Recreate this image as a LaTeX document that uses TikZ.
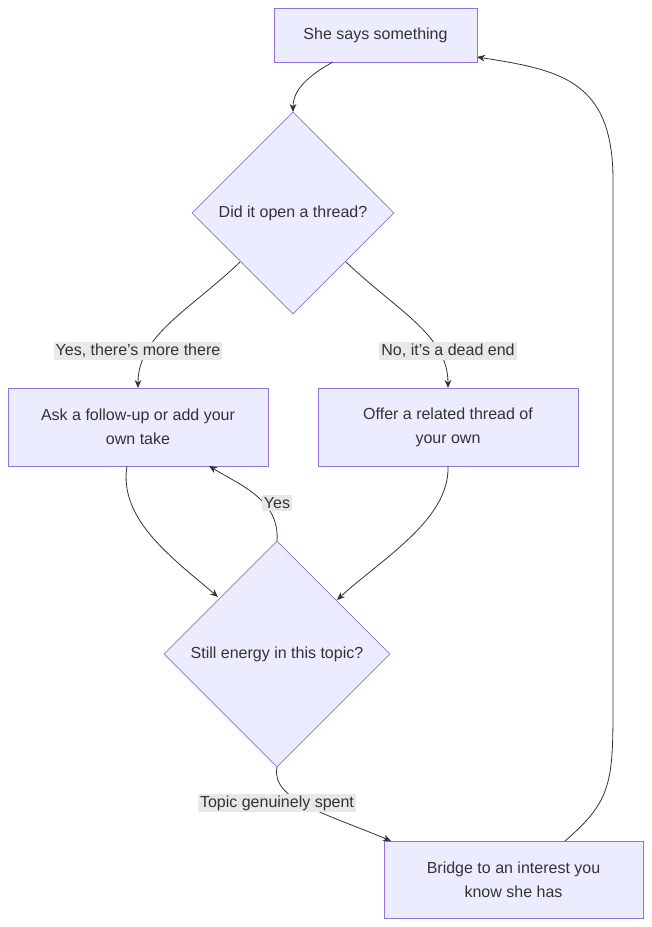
\documentclass[tikz,border=0pt]{standalone}
\usepackage{fontspec}
\setmainfont{Liberation Sans}
\usetikzlibrary{shapes.geometric,arrows.meta}
\definecolor{nfill}{HTML}{ECECFF}
\definecolor{nline}{HTML}{9370DB}
\definecolor{txt}{HTML}{333333}
\definecolor{lbg}{HTML}{E8E8E8}
\begin{document}
\begin{tikzpicture}[x=0.75pt,y=-0.75pt,
  box/.style={draw=nline,fill=nfill,line width=0.6pt,text=txt,font=\fontsize{12}{18}\selectfont,align=center,inner sep=0pt},
  dia/.style={draw=nline,fill=nfill,line width=0.6pt,diamond,aspect=1,text=txt,font=\fontsize{12}{18}\selectfont,inner sep=0pt},
  lab/.style={fill=lbg,text=txt,font=\fontsize{12}{14}\selectfont,inner sep=1.5pt},
  edge/.style={draw=txt,line width=0.6pt,-{Stealth[length=6pt,width=5pt]}}]
\useasboundingbox (0,0) rectangle (652,927);
\node[box,minimum width=203*0.75pt,minimum height=54*0.75pt] (A) at (375.5,35) {She says something};
\node[dia,minimum width=202*0.75pt,minimum height=202*0.75pt] (B) at (293,213) {Did it open a thread?};
\node[box,minimum width=260*0.75pt,minimum height=78*0.75pt] (C) at (138,427) {Ask a follow-up or add your\\own take};
\node[box,minimum width=260*0.75pt,minimum height=78*0.75pt] (D) at (448,427) {Offer a related thread of\\your own};
\node[dia,minimum width=226*0.75pt,minimum height=226*0.75pt] (E) at (277,654) {Still energy in this topic?};
\node[box,minimum width=259*0.75pt,minimum height=77*0.75pt] (F) at (513.5,879.5) {Bridge to an interest you\\know she has};
\coordinate (a1) at (333,62); \coordinate (b0) at (293,112);
\draw[edge] (a1) .. controls (300,80) and (293,95) .. (b0);
\coordinate (b1) at (240,262); \coordinate (c0) at (138,388);
\draw[edge] (b1) .. controls (190,310) and (138,335) .. (c0);
\node[lab] (l1) at (138,351) {Yes, there's more there};
\coordinate (b2) at (346,262); \coordinate (d0) at (448,388);
\draw[edge] (b2) .. controls (396,310) and (448,335) .. (d0);
\node[lab] (l2) at (448,351) {No, it's a dead end};
\coordinate (c1) at (127,466); \coordinate (e0) at (218,597);
\draw[edge] (c1) .. controls (118,520) and (175,560) .. (e0);
\coordinate (d1) at (448,466); \coordinate (e1) at (337,600);
\draw[edge] (d1) .. controls (450,520) and (380,560) .. (e1);
\coordinate (e2) at (277,541); \coordinate (c2) at (209,466);
\draw[edge] (e2) .. controls (280,500) and (240,485) .. (c2);
\node[lab] (l3) at (277,503) {Yes};
\coordinate (e3) at (277,767); \coordinate (f0) at (391,841);
\draw[edge] (e3) .. controls (270,800) and (330,815) .. (f0);
\node[lab] (l4) at (277,803) {Topic genuinely spent};
\coordinate (f1) at (565,841); \coordinate (a2) at (477,57);
\draw[edge] (f1) .. controls (613,800) and (613,780) .. (613,700) -- (613,180) .. controls (613,80) and (560,70) .. (a2);
\end{tikzpicture}
\end{document}
